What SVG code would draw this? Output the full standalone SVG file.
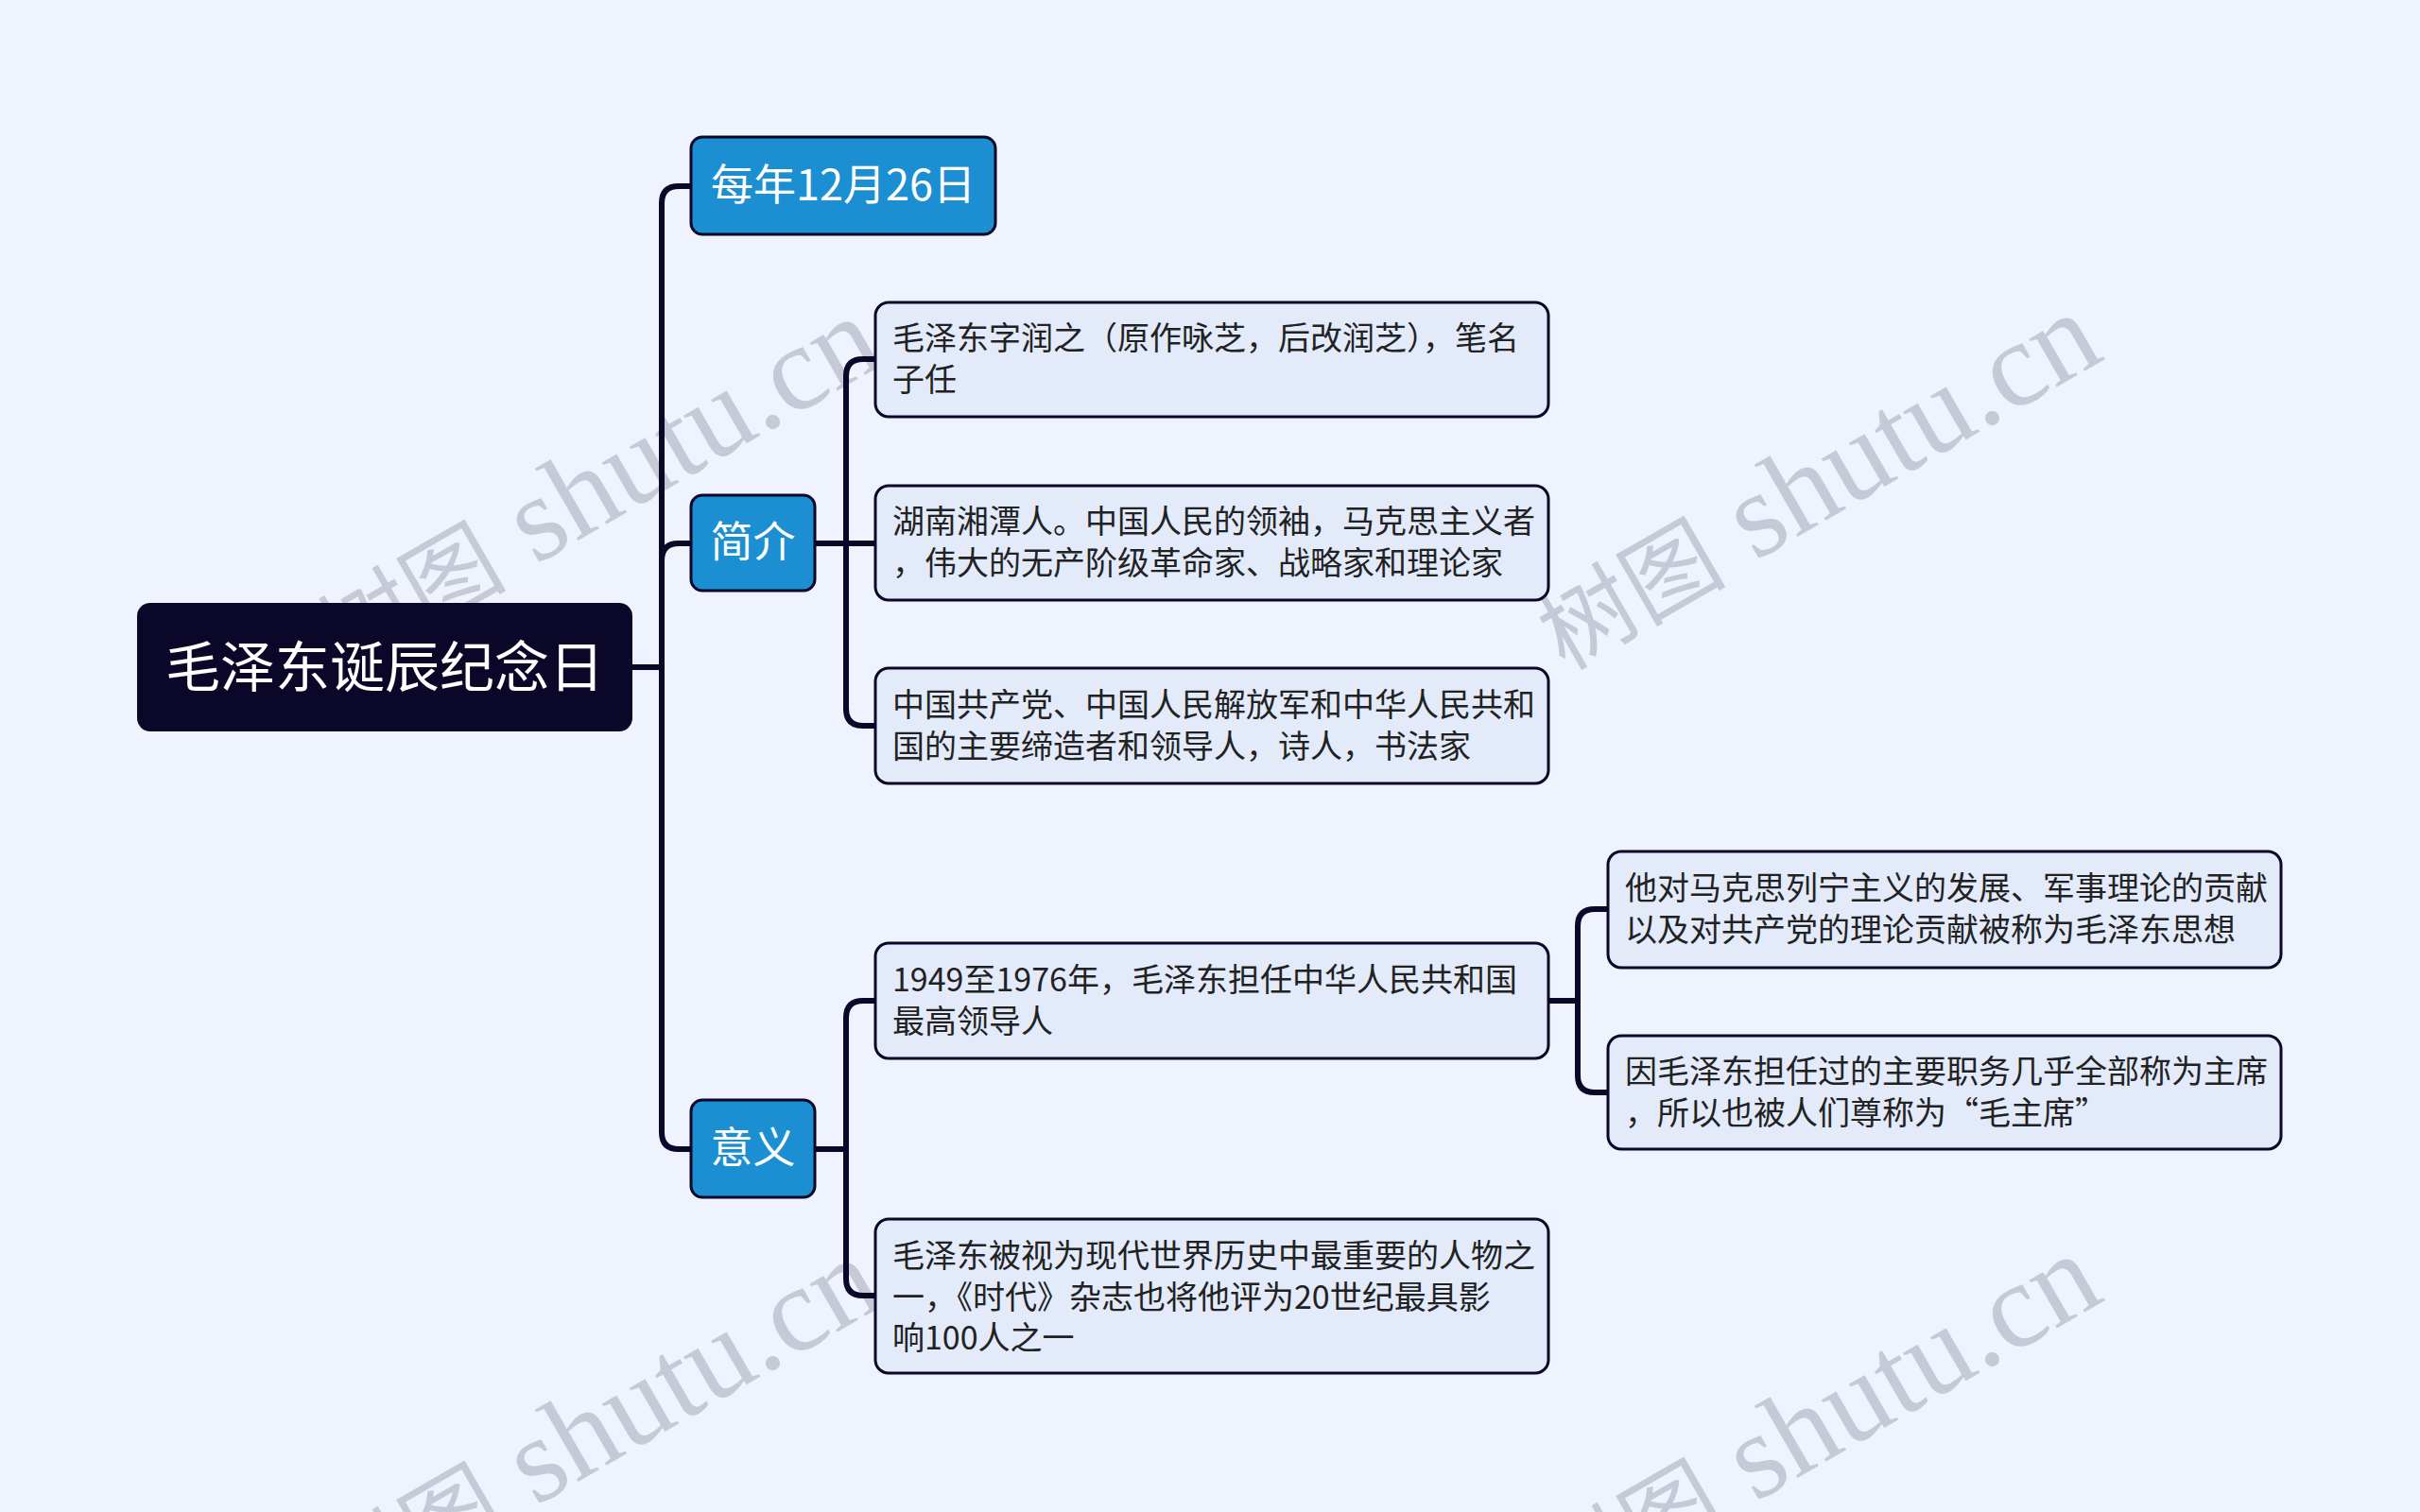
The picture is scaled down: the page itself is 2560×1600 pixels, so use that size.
<svg xmlns="http://www.w3.org/2000/svg" width="2560" height="1600" viewBox="0 0 2560 1600">
<style>
.wm{font-family:"Liberation Serif","Noto Sans CJK SC",serif;font-size:128px;fill:#c5cad6;text-anchor:middle}
.wm .cjk{font-size:100px}
.conn{fill:none;stroke:#0b0728;stroke-width:6;stroke-linejoin:round}
.root rect{fill:#0b0728}
.root text{font-family:"Noto Sans CJK SC","Noto Sans",sans-serif;font-size:58px;fill:#ffffff;text-anchor:middle}
.l1 rect{fill:#1b8fd2;stroke:#0b0728;stroke-width:3}
.l1 text{font-family:"Noto Sans CJK SC","Noto Sans",sans-serif;font-size:45px;fill:#ffffff;text-anchor:middle}
.l2 rect{fill:#e3ebfb;stroke:#0b0728;stroke-width:3}
.l2 text{font-family:"Noto Sans CJK SC","Noto Sans",sans-serif;font-size:34px;fill:#222222}
</style>
<rect x="0" y="0" width="2560" height="1600" fill="#eef3fe"/>
<g id="watermarks">
<text class="wm" transform="rotate(-30 632 514)" x="632" y="554"><tspan class="cjk">树图</tspan> shutu.cn</text>
<text class="wm" transform="rotate(-30 1922 510)" x="1922" y="550"><tspan class="cjk">树图</tspan> shutu.cn</text>
<text class="wm" transform="rotate(-30 632 1510)" x="632" y="1550"><tspan class="cjk">树图</tspan> shutu.cn</text>
<text class="wm" transform="rotate(-30 1922 1506)" x="1922" y="1546"><tspan class="cjk">树图</tspan> shutu.cn</text>
</g>
<g id="connectors">
<path class="conn" d="M669,706 H700 V215 Q700,197 718,197 H731"/>
<path class="conn" d="M669,706 H700 V593 Q700,575 718,575 H731"/>
<path class="conn" d="M669,706 H700 V1198 Q700,1216 718,1216 H731"/>
<path class="conn" d="M862,575 H895 V398 Q895,380 913,380 H926"/>
<path class="conn" d="M862,575 H926"/>
<path class="conn" d="M862,575 H895 V750 Q895,768 913,768 H926"/>
<path class="conn" d="M862,1216 H895 V1077 Q895,1059 913,1059 H926"/>
<path class="conn" d="M862,1216 H895 V1353 Q895,1371 913,1371 H926"/>
<path class="conn" d="M1638,1059 H1669 V980 Q1669,962 1687,962 H1701"/>
<path class="conn" d="M1638,1059 H1669 V1138 Q1669,1156 1687,1156 H1701"/>
</g>
<g id="root" class="root">
<rect x="145" y="638" width="524" height="136" rx="14"/>
<text x="407" y="727">毛泽东诞辰纪念日</text>
</g>
<g id="n-date" class="l1">
<rect x="731" y="145" width="322" height="103" rx="12"/>
<text x="892" y="212">每年12月26日</text>
</g>
<g id="n-intro" class="l1">
<rect x="731" y="524" width="131" height="101" rx="12"/>
<text x="796.5" y="590">简介</text>
</g>
<g id="n-meaning" class="l1">
<rect x="731" y="1164" width="131" height="103" rx="12"/>
<text x="796.5" y="1231">意义</text>
</g>
<g id="b1" class="l2">
<rect x="926" y="320" width="712" height="121" rx="14"/>
<text x="944" y="370">毛泽东字润之（原作咏芝，后改润芝），笔名</text>
<text x="944" y="414">子任</text>
</g>
<g id="b2" class="l2">
<rect x="926" y="514" width="712" height="121" rx="14"/>
<text x="944" y="564">湖南湘潭人。中国人民的领袖，马克思主义者</text>
<text x="944" y="608">，伟大的无产阶级革命家、战略家和理论家</text>
</g>
<g id="b3" class="l2">
<rect x="926" y="707" width="712" height="122" rx="14"/>
<text x="944" y="758">中国共产党、中国人民解放军和中华人民共和</text>
<text x="944" y="802">国的主要缔造者和领导人，诗人，书法家</text>
</g>
<g id="b4" class="l2">
<rect x="926" y="998" width="712" height="122" rx="14"/>
<text x="944" y="1049">1949至1976年，毛泽东担任中华人民共和国</text>
<text x="944" y="1093">最高领导人</text>
</g>
<g id="b5" class="l2">
<rect x="926" y="1290" width="712" height="163" rx="14"/>
<text x="944" y="1341">毛泽东被视为现代世界历史中最重要的人物之</text>
<text x="944" y="1385">一，《时代》杂志也将他评为20世纪最具影</text>
<text x="944" y="1428">响100人之一</text>
</g>
<g id="b6" class="l2">
<rect x="1701" y="901" width="712" height="123" rx="14"/>
<text x="1719" y="952">他对马克思列宁主义的发展、军事理论的贡献</text>
<text x="1719" y="996">以及对共产党的理论贡献被称为毛泽东思想</text>
</g>
<g id="b7" class="l2">
<rect x="1701" y="1096" width="712" height="120" rx="14"/>
<text x="1719" y="1146">因毛泽东担任过的主要职务几乎全部称为主席</text>
<text x="1719" y="1190">，所以也被人们尊称为“毛主席”</text>
</g>
</svg>
